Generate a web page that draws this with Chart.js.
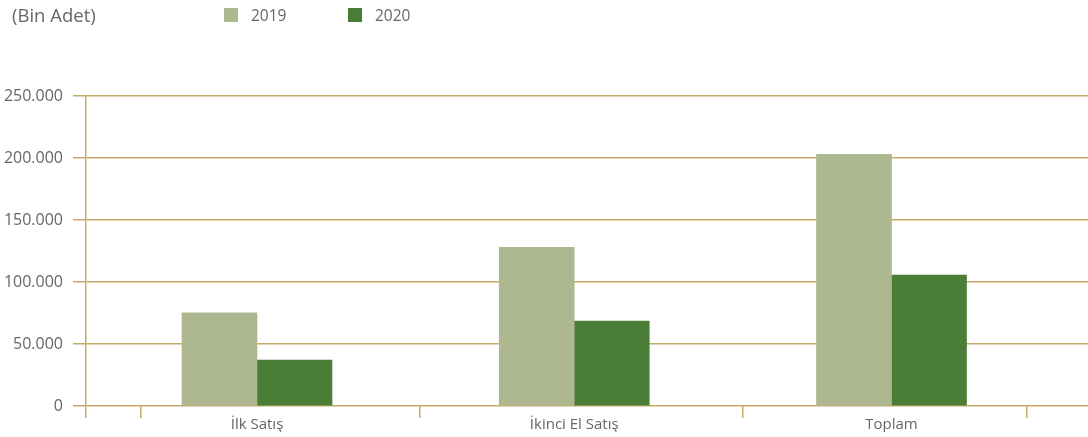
<!DOCTYPE html>
<html>
<head>
<meta charset="utf-8">
<script src="https://cdn.jsdelivr.net/npm/chart.js@4"></script>
<style>
  body { margin: 0; background: #fff; font-family: "Open Sans", sans-serif; }
  .wrap { position: relative; width: 1088px; height: 437px; }
  .unit { position: absolute; left: 12px; top: 2px; font-size: 18.5px; color: #666; }
  .legend { position: absolute; left: 224px; top: 4px; display: flex; font-size: 15.5px; color: #666; }
  .legend span.item { display: flex; align-items: center; width: 124px; }
  .legend i { display: inline-block; width: 14px; height: 14px; margin-right: 13px; }
</style>
</head>
<body>
<div class="wrap">
  <canvas id="myChart" width="1088" height="437"></canvas>
  <div class="unit">(Bin Adet)</div>
  <div class="legend" id="legend"></div>
</div>
<script>
var categories = ['İlk Satış', 'İkinci El Satış', 'Toplam'];
var seriesNames = ['2019', '2020'];
var values2019 = [75200, 128000, 203000];
var values2020 = [37000, 68500, 105500];
var yTicks = [0, 50000, 100000, 150000, 200000, 250000];

var gold = '#c9a968';
var textGrey = '#666666';
// tick marks between categories (x units on the index scale)
var boundaries = [0.461, 0.634, 1.514, 2.532, 3.427];

function points(vals) {
    return vals.map(function (v, i) { return { x: i + 1, y: v }; });
}

var ctx = document.getElementById('myChart').getContext('2d');
var myChart = new Chart(ctx, {
    type: 'bar',
    data: {
        datasets: [{
            label: seriesNames[0],
            data: points(values2019),
            backgroundColor: '#adb891',
            barThickness: 75
        }, {
            label: seriesNames[1],
            data: points(values2020),
            backgroundColor: '#4a7e37',
            barThickness: 75
        }]
    },
    options: {
        responsive: false,
        animation: false,
        layout: {
            padding: { top: 96, right: 0, bottom: 5, left: 0 }
        },
        plugins: {
            legend: { display: false },
            tooltip: { enabled: false }
        },
        scales: {
            x: {
                type: 'linear',
                offset: false,
                min: 0.461,
                max: 3.6194,
                afterBuildTicks: function (scale) {
                    var t = boundaries.concat(categories.map(function (c, i) { return i + 1; }));
                    t.sort(function (a, b) { return a - b; });
                    scale.ticks = t.map(function (v) { return { value: v }; });
                },
                border: { display: false },
                grid: {
                    offset: false,
                    drawOnChartArea: false,
                    drawTicks: true,
                    tickLength: 12,
                    lineWidth: 1.5,
                    tickColor: function (c) {
                        var v = c.tick ? c.tick.value : 0;
                        return Number.isInteger(v) ? 'rgba(0,0,0,0)' : gold;
                    }
                },
                ticks: {
                    autoSkip: false,
                    maxRotation: 0,
                    padding: -2,
                    color: textGrey,
                    font: { family: 'Open Sans', size: 15 },
                    callback: function (v) {
                        return Number.isInteger(v) ? categories[v - 1] : '';
                    }
                }
            },
            y: {
                min: 0,
                max: 250000,
                afterBuildTicks: function (scale) {
                    scale.ticks = yTicks.map(function (v) { return { value: v }; });
                },
                afterFit: function (scale) { scale.width = 86; },
                border: { color: gold, width: 1.5 },
                grid: {
                    color: gold,
                    lineWidth: 1.5,
                    tickLength: 13,
                    tickColor: gold
                },
                ticks: {
                    padding: 10,
                    color: textGrey,
                    font: { family: 'Open Sans', size: 16 },
                    callback: function (v) {
                        return v.toLocaleString('de-DE');
                    }
                }
            }
        }
    }
});

var legendBox = document.getElementById('legend');
myChart.data.datasets.forEach(function (ds) {
    var item = document.createElement('span');
    item.className = 'item';
    item.innerHTML = '<i style="background:' + ds.backgroundColor + '"></i>' + ds.label;
    legendBox.appendChild(item);
});
</script>
</body>
</html>
